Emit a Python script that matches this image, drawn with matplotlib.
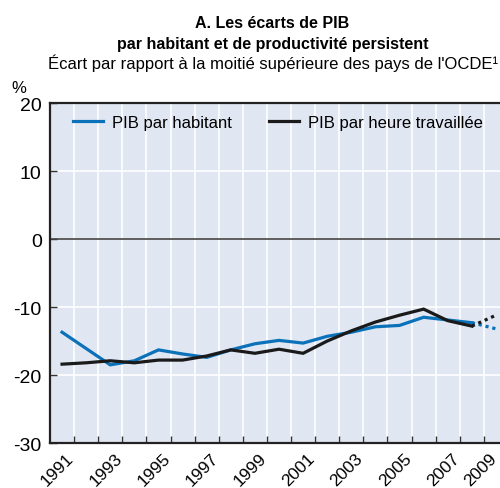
import numpy as np
import matplotlib
matplotlib.use("Agg")
import matplotlib.pyplot as plt
import matplotlib.transforms as mtransforms
from matplotlib.ticker import FixedLocator, NullFormatter

# values (% gap to the upper half of OECD countries)
years = np.arange(1991, 2010)
gdp_per_capita = [-13.7, -16.1, -18.5, -17.9, -16.3, -16.9, -17.4, -16.3, -15.4, -14.9,
                  -15.3, -14.3, -13.7, -12.9, -12.7, -11.5, -11.9, -12.3, -13.2]
gdp_per_hour = [-18.4, -18.2, -17.9, -18.2, -17.8, -17.8, -17.2, -16.3, -16.8, -16.2,
                -16.8, -15.0, -13.5, -12.2, -11.2, -10.3, -12.0, -12.8, -11.2]
label_years = list(range(1991, 2010, 2))
y_ticks = [-30, -20, -10, 0, 10, 20]

blue = '#0b72b9'
black = '#1a1a1a'
plain = ['Liberation Sans', 'DejaVu Sans']

fig = plt.figure(figsize=(5, 4.89), dpi=100)
ax = fig.add_axes([0.1, 0.092, 0.916, 0.695])
ax.set_facecolor('#e0e6f2')

# solid part up to 2008, dotted projection 2008-2009
ax.plot(years[:-1], gdp_per_capita[:-1], color=blue, lw=2.3, label='PIB par habitant',
        solid_joinstyle='miter', zorder=3)
ax.plot(years[-2:], gdp_per_capita[-2:], color=blue, lw=2.3, ls=(0, (1, 1.2)), zorder=3)
ax.plot(years[:-1], gdp_per_hour[:-1], color=black, lw=2.3, label='PIB par heure travaillée',
        solid_joinstyle='miter', zorder=3)
ax.plot(years[-2:], gdp_per_hour[-2:], color=black, lw=2.3, ls=(0, (1, 1.2)), zorder=3)

ax.set_xlim(1990.5, 2009.5)
ax.set_ylim(-30, 20)

ax.set_yticks(y_ticks)
ax.set_yticklabels([str(v) for v in y_ticks], family=plain, fontsize=14)
ax.tick_params(axis='y', direction='in', length=5, width=1, color='#333333', pad=6)

ax.xaxis.set_major_locator(FixedLocator(label_years))
ax.xaxis.set_minor_locator(FixedLocator(np.arange(1991.5, 2009.5, 1)))
ax.xaxis.set_minor_formatter(NullFormatter())
ax.tick_params(axis='x', which='major', length=0, pad=5)
ax.tick_params(axis='x', which='minor', direction='in', length=5, width=1, color='#333333')
labels = ax.set_xticklabels([str(y) for y in label_years], family=plain, fontsize=12.5)
for i, lab in enumerate(labels):
    dx = 4 if i < len(labels) - 1 else -7   # keep the last label inside the picture
    lab.set_rotation(45)
    lab.set_ha('right')
    lab.set_va('top')
    lab.set_rotation_mode('anchor')
    lab.set_transform(lab.get_transform()
                      + mtransforms.ScaledTranslation(dx / 100, 0, fig.dpi_scale_trans))

for v in y_ticks:
    ax.axhline(v, color='white', lw=1.2, zorder=1)
for x in np.arange(1991.5, 2009.5, 1):
    ax.axvline(x, color='white', lw=1.2, zorder=1)
ax.axhline(0, color='#444444', lw=1.2, zorder=2)

for side in ['left', 'bottom', 'top']:
    ax.spines[side].set_color('#222222')
    ax.spines[side].set_linewidth(1.6)
ax.spines['right'].set_visible(False)

ax.legend(loc='upper left', ncol=2, frameon=False, prop={'family': plain, 'size': 12},
          handlelength=1.8, handletextpad=0.55, columnspacing=2.2,
          bbox_to_anchor=(0.025, 1.0), borderaxespad=0.3)

fig.text(0.545, 0.951, 'A. Les écarts de PIB', ha='center', va='center',
         family=plain, fontweight='bold', fontsize=11.5)
fig.text(0.545, 0.908, 'par habitant et de productivité persistent', ha='center',
         va='center', family=plain, fontweight='bold', fontsize=11.5)
fig.text(0.545, 0.870, "Écart par rapport à la moitié supérieure des pays de l'OCDE¹",
         ha='center', va='center', family=plain, fontsize=12)
fig.text(0.022, 0.82, '%', ha='left', va='center', family=plain, fontsize=12)

fig.savefig('out.png', dpi=100)
